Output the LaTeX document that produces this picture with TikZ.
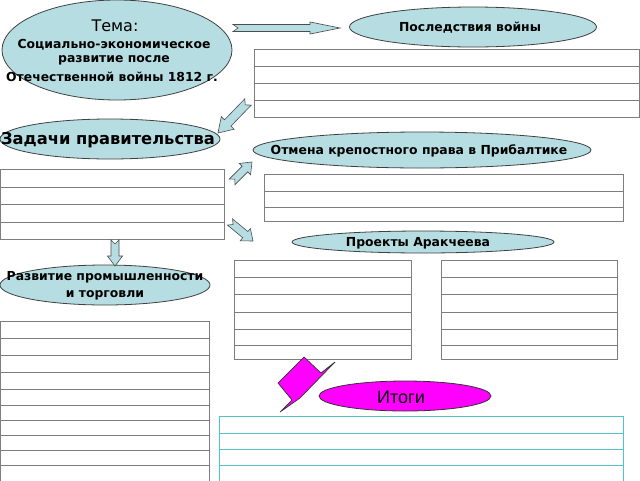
\documentclass[tikz,border=0pt]{standalone}
\usepackage{fontspec}
\setmainfont{DejaVu Sans}
\newfontfamily\itogifont{Liberation Sans}
\usetikzlibrary{shapes.geometric,calc}
\definecolor{ellfill}{RGB}{182,221,225}
\definecolor{tabline}{RGB}{125,125,125}
\definecolor{tabborder}{RGB}{75,75,75}
\definecolor{cyanline}{RGB}{80,196,196}
\definecolor{magfill}{RGB}{255,0,255}
\newcommand{\blockarr}[6]{%
  \coordinate (#1-n) at ($(#2)!#5!(#1)$);
  \draw[barr] ($(#1)!#3!90:(#2)$) -- ($(#1-n)!#3!90:(#2)$) -- ($(#1-n)!#4!90:(#2)$) -- (#2)
    -- ($(#1-n)!#4!-90:(#2)$) -- ($(#1-n)!#3!-90:(#2)$) -- ($(#1)!#3!-90:(#2)$) -- ($(#1)!#6!(#2)$) -- cycle;}
\newcommand{\linedbox}[6]{%
  \foreach \yy in {#5} \draw[#6] (#1,\yy) -- (#2,\yy);
  \draw[#6] (#1,#3) rectangle (#2,#4);}
\begin{document}
\begin{tikzpicture}[x=1pt,y=-1pt,
  ell/.style={ellipse, draw=black!75, line width=0.8pt, fill=ellfill, inner sep=0pt},
  bt/.style={font=\bfseries\fontsize{12.4}{14}\selectfont, inner sep=0pt},
  barr/.style={draw=black!70, fill=ellfill, line width=0.6pt, line join=miter},
  tabgray/.style={draw=tabline, line width=0.9pt},
  tabcyan/.style={draw=cyanline, line width=0.9pt}]
\useasboundingbox[fill=white] (0,0) rectangle (640,480);

% ellipses
\node[ell, minimum width=230pt, minimum height=100pt] (tema) at (117,50) {};
\node[inner sep=0pt, font=\fontsize{16}{18}\selectfont] (tema1) at (115,26) {Тема:};
\node[bt] (tema2) at (114,45) {Социально-экономическое};
\node[bt] (tema3) at (114,60) {развитие после};
\node[bt] (tema4) at (112,77) {Отечественной войны 1812 г.};

\node[ell, minimum width=247pt, minimum height=40pt] (posl) at (473,27) {};
\node[bt] (poslt) at (470,28) {Последствия войны};

\node[ell, minimum width=220pt, minimum height=40pt] (zad) at (110,139) {};
\node[bt, font=\bfseries\fontsize{16.3}{18}\selectfont] (zadt) at (108,140) {Задачи правительства};

\node[ell, minimum width=338pt, minimum height=36pt] (otm) at (422,150) {};
\node[bt] (otmt) at (419,151) {Отмена крепостного права в Прибалтике};

\node[ell, minimum width=262pt, minimum height=22pt] (arak) at (423,242) {};
\node[bt] (arakt) at (418,243) {Проекты Аракчеева};

\node[ell, minimum width=210pt, minimum height=40pt] (razv) at (105,285) {};
\node[bt] (razv1) at (105,277) {Развитие промышленности};
\node[bt] (razv2) at (105,295) {и торговли};

\node[ellipse, draw=black!80, line width=0.8pt, fill=magfill, inner sep=0pt,
  minimum width=172pt, minimum height=30pt] (itogi) at (405,396) {};
\node[inner sep=0pt, font=\itogifont\fontsize{18}{20}\selectfont] (itogit) at (401,397) {Итоги};

% tables
\linedbox{254}{639.5}{49}{117}{66,83,100}{tabgray}
\linedbox{0.5}{224}{169}{239}{187,204,222}{tabgray}
\linedbox{264}{623}{174}{221}{191,207}{tabgray}
\linedbox{234}{411}{260}{359}{277,294,312,329,345}{tabgray}
\linedbox{441}{617}{260}{359}{277,294,312,329,345}{tabgray}
\linedbox{0.5}{209}{321}{484}{338,355,372,389,405,420,435,450,465}{tabgray}
\linedbox{219}{623}{416}{484}{433,449,465}{tabcyan}

% block arrows
\coordinate (a1) at (233,28);  \coordinate (a1e) at (340,28);
\coordinate (a2) at (248,102); \coordinate (a2e) at (218,133);
\coordinate (a3) at (232,182); \coordinate (a3e) at (252,162);
\coordinate (a4) at (230,222); \coordinate (a4e) at (253,241);
\coordinate (a5) at (115,240); \coordinate (a5e) at (115,266);
\blockarr{a1}{a1e}{3.5pt}{6pt}{30pt}{5pt}
\blockarr{a2}{a2e}{4.5pt}{9pt}{14pt}{4pt}
\blockarr{a3}{a3e}{4pt}{8pt}{10pt}{4pt}
\blockarr{a4}{a4e}{4pt}{8pt}{10pt}{4pt}
\blockarr{a5}{a5e}{4pt}{7.5pt}{10pt}{4pt}

% magenta folded arrow
\draw[draw=black!80, fill=magfill, line width=0.7pt, line join=miter]
  (304,357) -- (321,373) -- (335,362) -- (300,398) -- (280,412) -- (292,400) -- (278,383) -- cycle;
\end{tikzpicture}
\end{document}
